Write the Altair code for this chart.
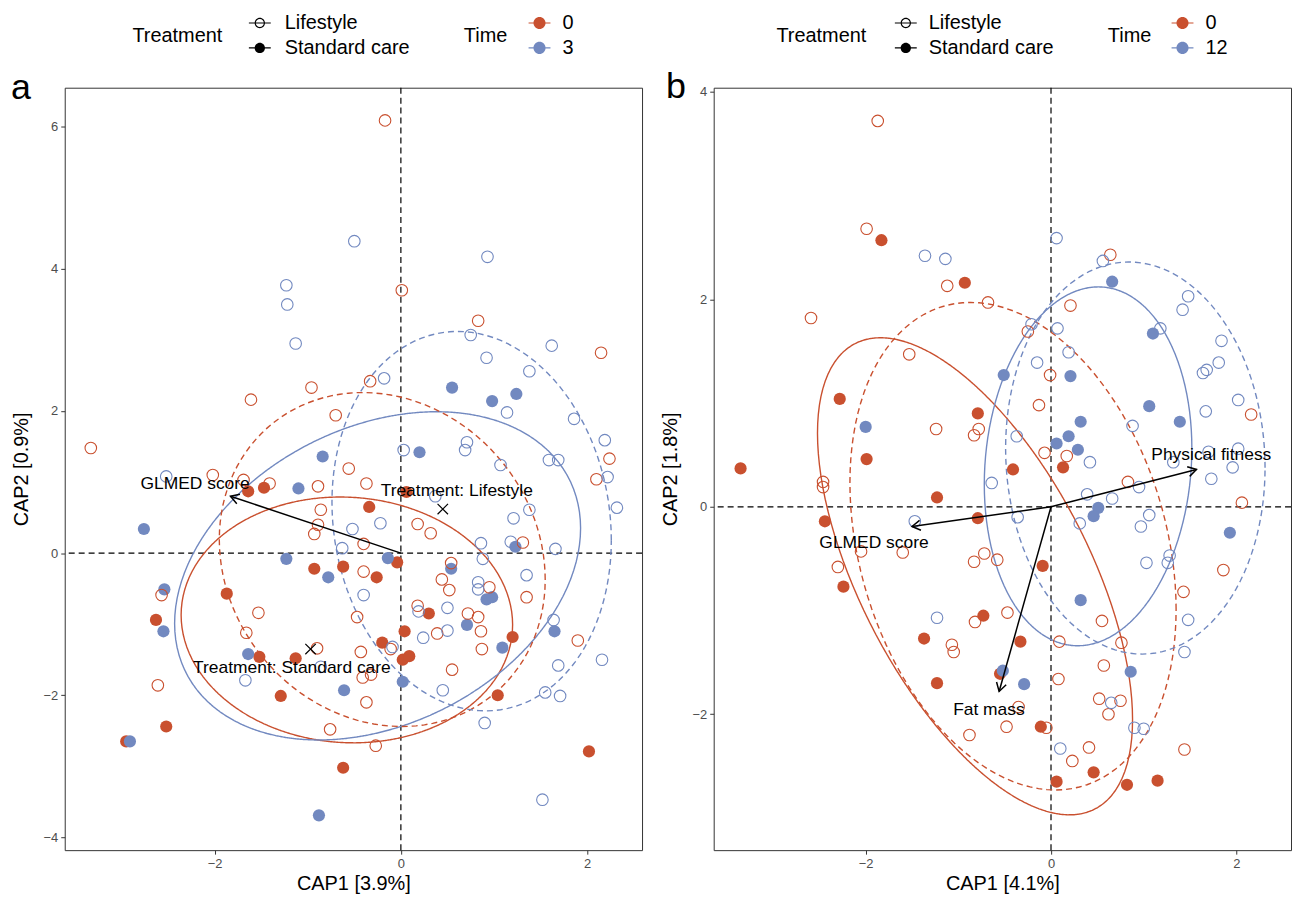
import math
import numpy as np
import pandas as pd
import altair as alt

RED = "#C9502F"
BLUE = "#7289C0"
FONT = "Liberation Sans"
TRT = ["Lifestyle", "Standard care"]

# ---------------- Panel a data (CAP1, CAP2) ----------------
A_LIFE_T0 = [(-0.96, 2.33), (-1.61, 2.16), (-0.70, 1.94), (-3.33, 1.48), (-0.56, 1.19), (-2.02, 1.10),
             (-0.17, 6.09), (0.01, 3.70), (0.83, 3.27), (2.15, 2.82), (-0.33, 2.42), (2.24, 1.33),
             (2.10, 1.04), (-0.37, 0.98), (0.18, 0.41), (0.32, 0.28), (-0.40, 0.13), (1.31, 0.15),
             (-0.40, -0.26), (-0.47, -0.90), (0.54, -0.14), (0.44, -0.37), (0.52, -0.52), (0.95, -0.48),
             (1.35, -0.62), (0.18, -0.74), (0.72, -0.85), (0.83, -0.90), (0.86, -1.10), (0.39, -1.13),
             (0.87, -1.35), (1.90, -1.23), (-0.11, -1.35), (0.55, -1.64), (-0.27, -2.71), (-0.37, -2.10),
             (-0.43, -1.39), (-0.32, -1.71), (-0.41, -1.75), (-1.69, 1.03), (-1.41, 0.98), (-0.89, 0.94),
             (-0.86, 0.61), (-0.89, 0.40), (-0.93, 0.27), (-2.57, -0.59), (-1.53, -0.84), (-1.66, -1.12),
             (-0.90, -1.34), (-2.61, -1.86), (-0.76, -2.48)]
A_LIFE_T3 = [(-0.50, 4.39), (-1.23, 3.77), (-1.22, 3.50), (-1.13, 2.95), (-2.52, 1.08), (0.93, 4.17),
             (0.75, 3.07), (1.62, 2.92), (0.92, 2.75), (1.38, 2.56), (-0.18, 2.46), (1.14, 1.98),
             (1.86, 1.89), (2.19, 1.59), (0.71, 1.56), (0.69, 1.45), (0.03, 1.45), (1.07, 1.24),
             (1.59, 1.31), (1.69, 1.31), (2.22, 1.07), (2.32, 0.64), (0.37, 0.80), (-0.22, 0.42),
             (-0.52, 0.34), (0.86, 0.14), (0.88, -0.08), (1.18, 0.16), (1.21, 0.49), (1.38, 0.61),
             (1.66, 0.06), (-0.40, -0.59), (0.83, -0.41), (0.83, -0.51), (1.35, -0.31), (0.19, -0.82),
             (0.50, -0.77), (0.50, -1.09), (0.24, -1.19), (1.64, -0.94), (2.16, -1.50), (1.69, -1.58),
             (1.55, -1.96), (1.71, -2.01), (0.90, -2.39), (1.52, -3.47), (-0.09, -1.32), (0.45, -1.93),
             (-0.63, 0.07), (-0.86, -1.60), (-1.67, -1.79)]
A_STD_T0 = [(0.06, 0.86), (-0.34, 0.65), (-0.04, -0.13), (-0.62, -0.19), (-0.26, -0.34), (0.30, -0.85),
            (0.04, -1.10), (1.20, -1.18), (1.04, -2.00), (2.02, -2.79), (-0.20, -1.26), (0.02, -1.50),
            (0.09, -1.45), (-1.64, 0.87), (-1.47, 0.92), (-0.93, -0.22), (-1.87, -0.57), (-2.63, -0.94),
            (-1.52, -1.46), (-1.13, -1.48), (-1.29, -2.01), (-2.52, -2.44), (-2.95, -2.65), (-0.62, -3.02)]
A_STD_T3 = [(-0.84, 1.36), (0.55, 2.33), (0.98, 2.14), (1.24, 2.24), (0.20, 1.42), (1.23, 0.09),
            (-0.14, -0.07), (0.54, -0.22), (0.92, -0.65), (0.98, -0.62), (0.71, -1.01), (1.09, -1.33),
            (1.65, -1.10), (0.02, -1.81), (-0.61, -1.93), (-1.10, 0.91), (-2.76, 0.34), (-1.23, -0.08),
            (-0.78, -0.34), (-2.54, -0.51), (-2.55, -1.10), (-1.64, -1.42), (-2.91, -2.65), (-0.88, -3.69)]

# ellipse parameters: treatment, time, centre x, centre y, half-width, half-height, correlation
A_ELLIPSES = [("Standard care", "0", -0.58, -0.94, 1.78, 1.73, -0.04),
              ("Standard care", "3", -0.25, -0.32, 2.18, 2.31, 0.29),
              ("Lifestyle", "0", -0.20, -0.09, 1.75, 2.35, -0.12),
              ("Lifestyle", "3", 0.76, 0.45, 1.50, 2.67, -0.10)]
A_ARROW_NAMES = ["GLMED score"]
A_ARROW_X = [-1.83]
A_ARROW_Y = [0.80]
A_ARROW_LX = [-2.21]
A_ARROW_LY = [0.97]
A_CENT_NAMES = ["Treatment: Lifestyle", "Treatment: Standard care"]
A_CENT_X = [0.45, -0.97]
A_CENT_Y = [0.62, -1.35]
A_CENT_LX = [0.60, -1.17]
A_CENT_LY = [0.87, -1.62]

# ---------------- Panel b data ----------------
B_LIFE_T0 = [(-1.87, 3.72), (-1.99, 2.68), (-1.12, 2.13), (-0.68, 1.97), (-2.59, 1.82), (-1.53, 1.47),
             (-1.24, 0.75), (-0.78, 0.75), (-0.83, 0.69), (0.64, 2.43), (0.21, 1.94), (-0.25, 1.69),
             (-0.01, 1.27), (-0.13, 0.98), (2.16, 0.89), (-0.07, 0.52), (0.17, 0.49), (0.83, 0.24),
             (2.06, 0.04), (-0.58, -0.51), (1.86, -0.61), (1.43, -0.82), (-0.47, -1.02), (0.55, -1.10),
             (0.09, -1.30), (0.76, -1.31), (0.57, -1.53), (0.08, -1.66), (0.52, -1.85), (0.75, -1.87),
             (0.62, -2.00), (-0.35, -1.93), (-0.48, -2.12), (-0.05, -2.13), (0.41, -2.32), (0.23, -2.45),
             (1.44, -2.34), (-2.46, 0.24), (-2.46, 0.19), (-2.05, -0.43), (-1.60, -0.44), (-2.30, -0.58),
             (-0.83, -0.53), (-0.72, -0.45), (-0.82, -1.11), (-1.07, -1.33), (-1.05, -1.40), (-0.88, -2.20)]
B_LIFE_T12 = [(-1.36, 2.42), (-1.14, 2.39), (0.06, 2.59), (0.56, 2.37), (1.48, 2.03), (1.42, 1.90),
              (-0.21, 1.76), (0.07, 1.72), (1.18, 1.72), (1.84, 1.60), (0.19, 1.49), (-0.15, 1.39),
              (1.81, 1.39), (1.68, 1.32), (1.64, 1.29), (2.02, 1.03), (1.67, 0.92), (0.88, 0.78),
              (-0.37, 0.68), (0.42, 0.43), (1.32, 0.43), (1.70, 0.53), (2.02, 0.56), (1.96, 0.38),
              (0.95, 0.19), (1.73, 0.27), (0.39, 0.12), (0.66, 0.08), (1.06, -0.08), (0.97, -0.19),
              (0.31, -0.16), (-0.36, -0.10), (1.03, -0.54), (1.26, -0.54), (1.28, -0.47), (1.48, -1.09),
              (1.44, -1.40), (0.65, -1.89), (0.90, -2.13), (1.00, -2.14), (0.10, -2.33), (-0.64, 0.23),
              (-1.47, -0.14), (-1.23, -1.07)]
B_STD_T0 = [(-1.83, 2.57), (-0.93, 2.16), (-2.28, 1.04), (-0.79, 0.90), (-1.99, 0.46), (-3.35, 0.37),
            (-0.41, 0.36), (0.13, 0.38), (-0.09, -0.57), (-0.33, -1.30), (-0.55, -1.61), (-0.11, -2.12),
            (0.46, -2.56), (0.06, -2.65), (0.82, -2.68), (1.15, -2.64), (-1.23, 0.09), (-0.79, -0.11),
            (-2.44, -0.14), (-2.24, -0.77), (-0.73, -1.05), (-1.37, -1.27), (-1.23, -1.70)]
B_STD_T12 = [(-0.51, 1.27), (-2.00, 0.77), (0.66, 2.17), (1.10, 1.67), (0.21, 1.26), (1.06, 0.97),
             (0.32, 0.82), (1.39, 0.82), (0.19, 0.68), (0.06, 0.61), (0.29, 0.55), (0.51, -0.01),
             (0.46, -0.09), (1.93, -0.25), (0.32, -0.90), (0.86, -1.59), (-0.52, -1.58), (-0.29, -1.71)]
B_ELLIPSES = [("Standard care", "0", -0.82, -0.67, 1.70, 2.30, -0.60),
              ("Lifestyle", "0", -0.41, -0.38, 1.76, 2.35, -0.26),
              ("Standard care", "12", 0.40, 0.39, 1.12, 1.73, 0.10),
              ("Lifestyle", "12", 0.91, 0.47, 1.40, 1.89, -0.05)]
B_ARROW_NAMES = ["GLMED score", "Physical fitness", "Fat mass"]
B_ARROW_X = [-1.50, 1.57, -0.56]
B_ARROW_Y = [-0.19, 0.36, -1.78]
B_ARROW_LX = [-1.91, 1.73, -0.67]
B_ARROW_LY = [-0.35, 0.50, -1.96]


def points_df(groups):
    rows = []
    for trt, time, pts in groups:
        for x, y in pts:
            rows.append({"x": x, "y": y, "trt": trt, "time": time})
    return pd.DataFrame(rows)


def ellipse_df(params):
    rows = []
    t = np.linspace(0, 2 * np.pi, 121)
    for k, (trt, time, cx, cy, hx, hy, r) in enumerate(params):
        xs = cx + hx * np.cos(t)
        ys = cy + hy * (r * np.cos(t) + math.sqrt(1 - r * r) * np.sin(t))
        for i, (x, y) in enumerate(zip(xs, ys)):
            rows.append({"x": x, "y": y, "i": i, "grp": k, "trt": trt, "time": time})
    return pd.DataFrame(rows)


def circ(r, sweep):
    return f"M{r},0A{r},{r} 0 1,{sweep} {-r},0A{r},{r} 0 1,{sweep} {r},0Z"


BAR = "M-1,-0.05H1V0.05H-1Z"
RING = circ(0.47, 1) + circ(0.37, 0) + BAR
DISC = circ(0.47, 1) + BAR
DISC_T = circ(0.55, 1) + BAR
CHEVRON = "M-1,-0.6L0,0L-1,0.6"
CROSS = "M-1,-1L1,1M-1,1L1,-1"
MINUS = "replace(datum.label, '-', '\u2212')"
ONE = pd.DataFrame({"k": [0]})


def legend_layers(times, colors, lx):
    """Legend drawn at the top of the panel (pixel offsets from the plot's top-left)."""
    x_title_t, x_sym_t, x_lab_t, x_title_m, x_sym_m, x_lab_m = lx
    rows_y = [-65, -40]
    y_mid = -52
    out = []

    def txt(s, x, y):
        return alt.Chart(ONE).mark_text(text=s, fontSize=20, font=FONT, color="black", align="left",
                                        baseline="middle").encode(x=alt.value(x), y=alt.value(y))

    def sym(shape, col, x, y):
        return alt.Chart(ONE).mark_point(shape=shape, filled=True, size=484, color=col, opacity=1,
                                         strokeWidth=0).encode(x=alt.value(x), y=alt.value(y))

    out.append(txt("Treatment", x_title_t, y_mid))
    out.append(sym(RING, "black", x_sym_t, rows_y[0]))
    out.append(sym(DISC, "black", x_sym_t, rows_y[1]))
    out.append(txt(TRT[0], x_lab_t, rows_y[0]))
    out.append(txt(TRT[1], x_lab_t, rows_y[1]))
    out.append(txt("Time", x_title_m, y_mid))
    for k in range(2):
        out.append(sym(DISC_T, colors[k], x_sym_m, rows_y[k]))
        out.append(txt(times[k], x_lab_m, rows_y[k]))
    return out


def panel(groups, ellipses, arrows, cents, xdom, ydom, xvals, yvals, W, H, times,
          xtitle, ytitle, tag, tagx, tagy, legpos):
    xs = alt.Scale(domain=xdom, nice=False, zero=False)
    ys = alt.Scale(domain=ydom, nice=False, zero=False)
    common = dict(grid=False, domain=False, ticks=True, tickSize=4, tickColor="#333333",
                  tickWidth=1, labelColor="#4D4D4D", labelFontSize=13, titleFontSize=20,
                  titleFontWeight="normal", titleColor="black", labelPadding=3,
                  labelExpr=MINUS, labelFont=FONT, titleFont=FONT)
    xax = alt.Axis(values=xvals, title=xtitle, titlePadding=4, **common)
    yax = alt.Axis(values=yvals, title=ytitle, titlePadding=12, **common)

    def X(f):
        return alt.X(f, type="quantitative", scale=xs, axis=xax)

    def Y(f):
        return alt.Y(f, type="quantitative", scale=ys, axis=yax)

    tscale = alt.Scale(domain=times, range=[RED, BLUE])
    pts = points_df(groups)
    ell = ellipse_df(ellipses)

    zero = pd.DataFrame({"v": [0.0]})
    vrule = alt.Chart(zero).mark_rule(color="black", strokeDash=[6, 4], strokeWidth=1.2).encode(x=X("v"))
    hrule = alt.Chart(zero).mark_rule(color="black", strokeDash=[6, 4], strokeWidth=1.2).encode(y=Y("v"))

    ell_layer = alt.Chart(ell).mark_line(strokeWidth=1.4, clip=True).encode(
        x=X("x"), y=Y("y"), order="i:Q", detail="grp:N",
        stroke=alt.Stroke("time:N", scale=tscale, legend=None),
        strokeDash=alt.StrokeDash("trt:N", scale=alt.Scale(domain=TRT, range=[[6, 4], [1, 0]]), legend=None),
    )

    open_pts = alt.Chart(pts[pts.trt == "Lifestyle"]).mark_point(
        shape="circle", filled=False, size=135, strokeWidth=1.1, opacity=1, clip=True).encode(
        x=X("x"), y=Y("y"), stroke=alt.Stroke("time:N", scale=tscale, legend=None))
    fill_pts = alt.Chart(pts[pts.trt == "Standard care"]).mark_point(
        shape="circle", filled=True, size=150, opacity=1, clip=True).encode(
        x=X("x"), y=Y("y"), fill=alt.Fill("time:N", scale=tscale, legend=None))

    layers = [vrule, hrule, ell_layer, fill_pts, open_pts]

    names, ax, ay, lx, ly = arrows
    ppx = W / (xdom[1] - xdom[0])
    ppy = H / (ydom[1] - ydom[0])
    adf = pd.DataFrame({"name": names, "x": ax, "y": ay, "lx": lx, "ly": ly,
                        "x0": [0.0] * len(names), "y0": [0.0] * len(names)})
    adf["ang"] = [math.degrees(math.atan2(-y * ppy, x * ppx)) % 360 for x, y in zip(ax, ay)]
    layers.append(alt.Chart(adf).mark_rule(color="black", strokeWidth=1.5).encode(
        x=X("x0"), y=Y("y0"), x2="x:Q", y2="y:Q"))
    layers.append(alt.Chart(adf).mark_point(shape=CHEVRON, filled=False, size=280, color="black",
                                            strokeWidth=1.5, opacity=1).encode(
        x=X("x"), y=Y("y"), angle=alt.Angle("ang:Q", scale=None)))
    layers.append(alt.Chart(adf).mark_text(fontSize=17.5, font=FONT, color="black").encode(
        x=X("lx"), y=Y("ly"), text="name:N"))

    if cents is not None:
        cn, cx, cy, clx, cly = cents
        cdf = pd.DataFrame({"name": cn, "x": cx, "y": cy, "lx": clx, "ly": cly})
        layers.append(alt.Chart(cdf).mark_point(shape=CROSS, filled=False, size=110, color="black",
                                                strokeWidth=1.2, opacity=1).encode(x=X("x"), y=Y("y")))
        layers.append(alt.Chart(cdf).mark_text(fontSize=17.5, font=FONT, color="black").encode(
            x=X("lx"), y=Y("ly"), text="name:N"))

    layers += legend_layers(times, [RED, BLUE], legpos)

    layers.append(alt.Chart(ONE).mark_text(text=tag, fontSize=36, font=FONT, color="black",
                                           align="center", baseline="alphabetic").encode(
        x=alt.value(tagx), y=alt.value(tagy)))

    return alt.layer(*layers).properties(width=W, height=H)


pa = panel([("Lifestyle", "0", A_LIFE_T0), ("Lifestyle", "3", A_LIFE_T3),
            ("Standard care", "0", A_STD_T0), ("Standard care", "3", A_STD_T3)],
           A_ELLIPSES, (A_ARROW_NAMES, A_ARROW_X, A_ARROW_Y, A_ARROW_LX, A_ARROW_LY),
           (A_CENT_NAMES, A_CENT_X, A_CENT_Y, A_CENT_LX, A_CENT_LY),
           [-3.61, 2.59], [-4.18, 6.55], [-2, 0, 2], [-4, -2, 0, 2, 4, 6], 580, 766, ["0", "3"],
           "CAP1 [3.9%]", "CAP2 [0.9%]", "a", -44, 11, (68, 196, 221, 401, 477, 500))

pb = panel([("Lifestyle", "0", B_LIFE_T0), ("Lifestyle", "12", B_LIFE_T12),
            ("Standard care", "0", B_STD_T0), ("Standard care", "12", B_STD_T12)],
           B_ELLIPSES, (B_ARROW_NAMES, B_ARROW_X, B_ARROW_Y, B_ARROW_LX, B_ARROW_LY), None,
           [-3.64, 2.59], [-3.31, 4.04], [-2, 0, 2], [-2, 0, 2, 4], 580, 766, ["0", "12"],
           "CAP1 [4.1%]", "CAP2 [1.8%]", "b", -38, 10, (63, 193, 216, 396, 471, 494))

chart = alt.hconcat(pa, pb, spacing=15).resolve_scale(
    x="independent", y="independent", stroke="independent", fill="independent",
    strokeDash="independent"
).properties(
    padding={"left": 2, "top": 2, "right": 0, "bottom": 2}
).configure(font=FONT).configure_view(stroke="#333333", strokeWidth=1)

chart.save("out.html", embed_options={"renderer": "svg", "actions": False})
